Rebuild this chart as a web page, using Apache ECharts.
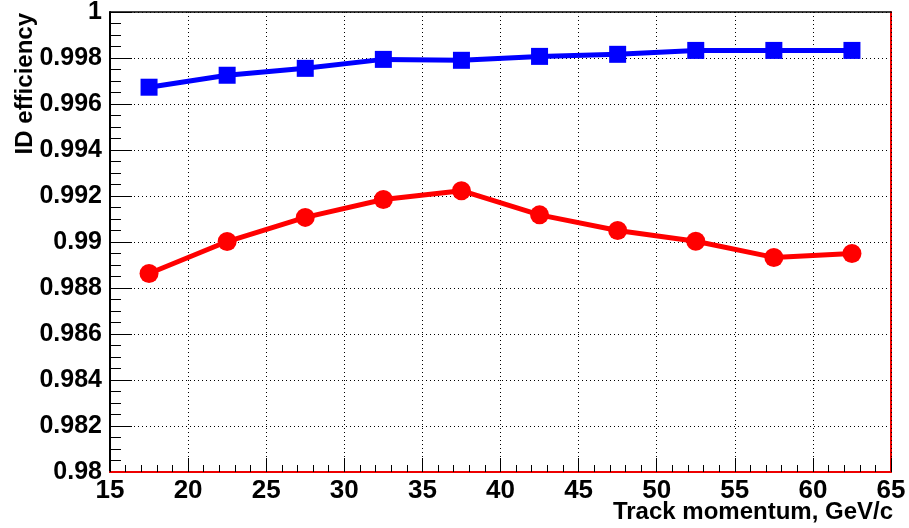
<!DOCTYPE html>
<html>
<head>
<meta charset="utf-8">
<script src="https://cdn.jsdelivr.net/npm/echarts@6/dist/echarts.min.js"></script>
<style>
html,body{margin:0;padding:0;background:#fff;}
#c{width:909px;height:528px;}
</style>
</head>
<body>
<div id="c"></div>
<script>
const momentum = [17.5, 22.5, 27.5, 32.5, 37.5, 42.5, 47.5, 52.5, 57.5, 62.5];
const blueEff = [0.99673, 0.99725, 0.99755, 0.99794, 0.99790, 0.99807, 0.99816, 0.99833, 0.99833, 0.99833];
const redEff  = [0.98863, 0.99002, 0.99107, 0.99185, 0.99223, 0.99118, 0.99050, 0.99003, 0.98933, 0.98950];
const xTitle = 'Track momentum, GeV/c';
const yTitle = 'ID efficiency';

const FONT = '"Liberation Sans", Arial, Helvetica, sans-serif';
const chart = echarts.init(document.getElementById('c'), null, {renderer: 'canvas'});
const toPairs = (xs, ys) => xs.map((x, i) => [x, ys[i]]);

const gridLine = {show: true, lineStyle: {color: '#000', width: 1, type: [1, 3]}};

chart.setOption({
  animation: false,
  backgroundColor: '#fff',
  grid: {left: 110, right: 18, top: 12, bottom: 56, containLabel: false, outerBoundsMode: 'none'},
  xAxis: [{
    type: 'value', min: 15, max: 65, interval: 5, position: 'bottom',
    axisLine: {show: true, onZero: false, lineStyle: {color: '#ee0000', width: 2}},
    axisTick: {show: true, inside: true, length: 14, lineStyle: {color: '#000', width: 1}},
    minorTick: {show: true, splitNumber: 5, length: 7, lineStyle: {color: '#000', width: 1}},
    axisLabel: {show: true, margin: 6, color: '#000', fontFamily: FONT, fontWeight: 'bold', fontSize: 26, showMinLabel: true, showMaxLabel: true},
    splitLine: gridLine,
    z: 3
  }, {
    type: 'value', min: 15, max: 65, interval: 5, position: 'top',
    axisLine: {show: true, onZero: false, lineStyle: {color: '#000', width: 1.5}},
    axisTick: {show: false}, axisLabel: {show: false}, splitLine: {show: false}
  }],
  yAxis: [{
    type: 'value', min: 0.98, max: 1, interval: 0.002, position: 'left',
    axisLine: {show: true, onZero: false, lineStyle: {color: '#000', width: 2}},
    axisTick: {show: true, inside: true, length: 22, lineStyle: {color: '#000', width: 1}},
    minorTick: {show: true, splitNumber: 4, length: 11, lineStyle: {color: '#000', width: 1}},
    axisLabel: {show: true, margin: 8, color: '#000', fontFamily: FONT, fontWeight: 'bold', fontSize: 25,
      padding: [9, 0, 0, 0],
      showMinLabel: true, showMaxLabel: true,
      formatter: v => parseFloat(v.toFixed(3)).toString()},
    splitLine: gridLine
  }, {
    type: 'value', min: 0.98, max: 1, interval: 0.002, position: 'right',
    axisLine: {show: true, onZero: false, lineStyle: {color: '#ee0000', width: 2}},
    axisTick: {show: false}, axisLabel: {show: false}, splitLine: {show: false}
  }],
  graphic: [
    {type: 'text', x: 893, y: 512,
      style: {text: xTitle, fill: '#000', font: 'bold 24px ' + FONT, align: 'right', verticalAlign: 'middle'}},
    {type: 'text', x: 25, y: 13, rotation: Math.PI / 2,
      style: {text: yTitle, fill: '#000', font: 'bold 24px ' + FONT, align: 'right', verticalAlign: 'middle'}}
  ],
  series: [{
    type: 'line', name: 'blue', xAxisIndex: 0, yAxisIndex: 0,
    data: toPairs(momentum, blueEff),
    symbol: 'rect', symbolSize: 17, showAllSymbol: true,
    lineStyle: {color: '#0000ff', width: 5},
    itemStyle: {color: '#0000ff'},
    z: 5
  }, {
    type: 'line', name: 'red', xAxisIndex: 0, yAxisIndex: 0,
    data: toPairs(momentum, redEff),
    symbol: 'circle', symbolSize: 19, showAllSymbol: true,
    lineStyle: {color: '#ff0000', width: 5},
    itemStyle: {color: '#ff0000'},
    z: 5
  }]
});
</script>
</body>
</html>
